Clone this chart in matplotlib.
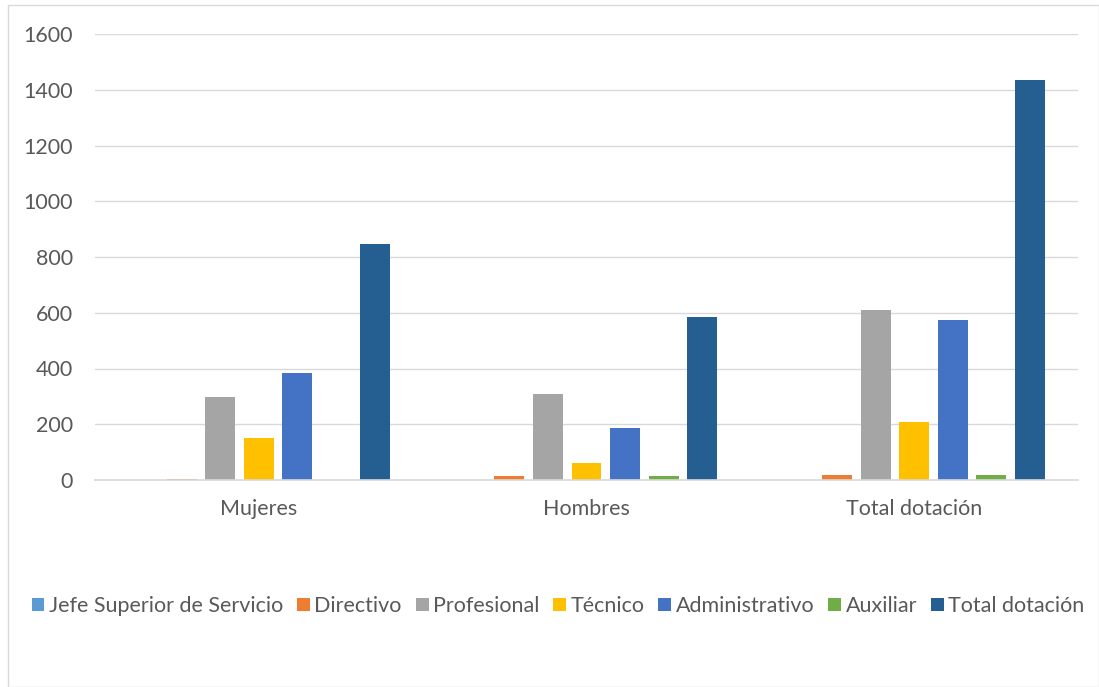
import matplotlib
matplotlib.use("Agg")
import matplotlib.pyplot as plt
import numpy as np
from matplotlib.patches import Rectangle

# ── Data ─────────────────────────────────────────────────────────────
categories = ["Mujeres", "Hombres", "Total dotación"]
series = ["Jefe Superior de Servicio", "Directivo", "Profesional", "Técnico",
          "Administrativo", "Auxiliar", "Total dotación"]
jefe      = [0, 0, 0]
directivo = [5, 13, 19]
profesional = [298, 310, 610]
tecnico   = [151, 60, 208]
administrativo = [384, 187, 574]
auxiliar  = [0, 14, 18]
total     = [847, 586, 1435]
values = [jefe, directivo, profesional, tecnico, administrativo, auxiliar, total]

colors = ["#5B9BD5", "#ED7D31", "#A5A5A5", "#FFC000", "#4472C4", "#70AD47", "#255E91"]
yticks = [0, 200, 400, 600, 800, 1000, 1200, 1400, 1600]

plt.rcParams["font.family"] = ["Lato", "DejaVu Sans"]

W, H = 1099, 687
fig = plt.figure(figsize=(W / 100, H / 100), dpi=100)
ax = fig.add_axes([95 / W, 1 - 480 / H, (1078 - 95) / W, (480 - 34) / H])

x = np.arange(len(categories))
step = 0.1177
width = 0.0915
for i, (name, vals, c) in enumerate(zip(series, values, colors)):
    ax.bar(x + (i - 3) * step, vals, width=width, color=c, label=name, zorder=3)

ax.set_xlim(-0.5, 2.5)
ax.set_ylim(0, 1600)
ax.set_yticks(yticks)
ax.set_xticks(x)
ax.set_xticklabels(categories)
ax.tick_params(axis="both", length=0, labelsize=15.5, colors="#595959")
ax.tick_params(axis="y", pad=16)
ax.tick_params(axis="x", pad=14)
ax.grid(axis="y", color="#D9D9D9", linewidth=1, zorder=0)
for s in ["top", "right", "left"]:
    ax.spines[s].set_visible(False)
ax.spines["bottom"].set_color("#D9D9D9")
ax.spines["bottom"].set_linewidth(1.2)
ax.spines["bottom"].set_zorder(4)

fig.legend(loc="center", bbox_to_anchor=(558 / W, 1 - 606 / H), ncol=7,
           frameon=False, fontsize=15.5, handlelength=0.6, handleheight=0.6,
           handletextpad=0.2, columnspacing=0.65, labelcolor="#595959")

fig.patches.append(Rectangle((8 / W, 0), (W - 8) / W, 1 - 5 / H,
                             transform=fig.transFigure, fill=False,
                             edgecolor="#D9D9D9", linewidth=1))

fig.savefig("out.png", dpi=100, facecolor="white")
